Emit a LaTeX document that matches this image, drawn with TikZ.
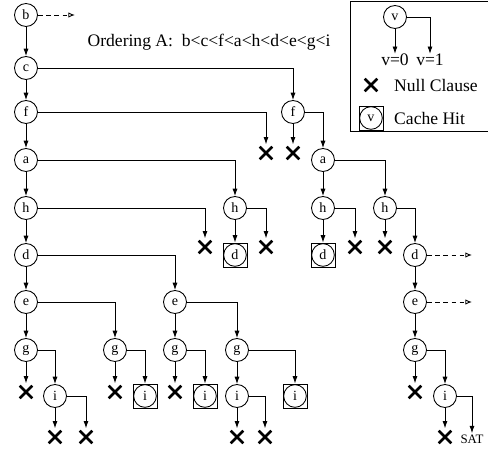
\documentclass[tikz,border=0pt]{standalone}
\usepackage{fontspec}
\setmainfont{Liberation Serif}
\usetikzlibrary{arrows.meta,shapes.misc}

\begin{document}
\begin{tikzpicture}[x=0.3cm,y=-0.3cm,
		var/.style={circle, draw, line width=0.75pt, minimum size=0.69cm, inner sep=0pt, font=\fontsize{12}{12}\selectfont},
		hit/.style={rectangle, draw, line width=0.75pt, minimum size=0.72cm, inner sep=0pt, font=\fontsize{12}{12}\selectfont,
			path picture={\draw[line width=0.75pt] (path picture bounding box.center) circle[radius=0.34cm];}},
		nulo/.style={cross out, draw, line width=2.2pt, minimum size=0.3cm, inner sep=0pt},
		rama/.style={line width=0.75pt, -{Latex[length=2.2mm,width=1.5mm]}},
		ramax/.style={rama, shorten >=2pt},
		pend/.style={line width=0.75pt, dash pattern=on 4pt off 3pt, -{Latex[open,length=2mm,width=1.6mm]}},
		texto/.style={font=\fontsize{15}{15}\selectfont, inner sep=0pt}]
	\useasboundingbox (0,0) rectangle (48.8,45.1);

	% Leyenda
		\draw[line width=0.75pt] (48.8,0.1) -- (35.0,0.1) -- (35.0,13.1) -- (48.8,13.1);
		\node[var] (lv) at (39.5,1.7) {v};
		\node[texto] (lv0) at (39.5,6.0) {v=0};
		\node[texto] (lv1) at (43.0,6.0) {v=1};
		\draw[rama] (lv) -- (lv0);
		\draw[rama] (lv) -| (lv1);
		\node[nulo] (lnulo) at (37.1,8.5) {};
		\node[texto, anchor=west] (lnulot) at (39.4,8.5) {Null Clause};
		\node[hit] (lhit) at (37.1,11.8) {v};
		\node[texto, anchor=west] (lhitt) at (39.4,11.8) {Cache Hit};

	% Orden
		\node[texto] (orden) at (20.9,4.2) {Ordering A:\ \ b<c<f<a<h<d<e<g<i};

	% Rama izquierda
		\node[var] (b) at (2.6,1.5) {b};
		\coordinate (bfin) at (7.5,1.5);
		\node[var] (c1) at (2.6,6.8) {c};
		\node[var] (f1) at (2.6,11.2) {f};
		\node[var] (a1) at (2.6,16.0) {a};
		\node[var] (h1) at (2.6,20.8) {h};
		\node[var] (d1) at (2.6,25.5) {d};
		\node[var] (e1) at (2.6,30.2) {e};
		\node[var] (g1) at (2.6,35.0) {g};
		\node[nulo] (n1) at (2.6,39.2) {};
		\node[var] (i1) at (5.5,39.6) {i};
		\node[nulo] (n2) at (5.5,43.7) {};
		\node[nulo] (n3) at (8.6,43.7) {};

	% Nivel f, a
		\node[var] (f2) at (29.3,11.2) {f};
		\node[nulo] (n4) at (26.6,15.3) {};
		\node[nulo] (n5) at (29.3,15.3) {};
		\node[var] (a2) at (32.3,16.0) {a};

	% Nivel h, d
		\node[var] (h2) at (23.5,20.8) {h};
		\node[var] (h3) at (32.3,20.8) {h};
		\node[var] (h4) at (38.5,20.8) {h};
		\node[nulo] (n6) at (20.5,24.7) {};
		\node[hit] (d2) at (23.5,25.5) {d};
		\node[nulo] (n7) at (26.6,24.7) {};
		\node[hit] (d3) at (32.3,25.5) {d};
		\node[nulo] (n8) at (35.5,24.7) {};
		\node[nulo] (n9) at (38.5,24.7) {};
		\node[var] (d4) at (41.5,25.5) {d};
		\coordinate (d4fin) at (47.2,25.5);

	% Nivel e, g, i
		\node[var] (e2) at (17.5,30.2) {e};
		\node[var] (e4) at (41.5,30.2) {e};
		\coordinate (e4fin) at (47.2,30.2);
		\node[var] (g2) at (11.5,35.0) {g};
		\node[var] (g3) at (17.5,35.0) {g};
		\node[var] (g4) at (23.7,35.0) {g};
		\node[var] (g5) at (41.5,35.0) {g};
		\node[nulo] (n10) at (11.5,39.2) {};
		\node[hit] (i2) at (14.5,39.6) {i};
		\node[nulo] (n11) at (17.5,39.2) {};
		\node[hit] (i3) at (20.5,39.6) {i};
		\node[var] (i4) at (23.7,39.6) {i};
		\node[hit] (i6) at (29.5,39.6) {i};
		\node[nulo] (n12) at (23.7,43.7) {};
		\node[nulo] (n13) at (26.5,43.7) {};
		\node[nulo] (n14) at (41.5,39.2) {};
		\node[var] (i5) at (44.5,39.6) {i};
		\node[nulo] (n15) at (44.5,43.7) {};
		\node[inner sep=1pt, font=\fontsize{11}{11}\selectfont] (sat) at (47.2,43.9) {SAT};

	% Ramas v=0
		\draw[rama] (b) -- (c1);
		\draw[rama] (c1) -- (f1);
		\draw[rama] (f1) -- (a1);
		\draw[rama] (a1) -- (h1);
		\draw[rama] (h1) -- (d1);
		\draw[rama] (d1) -- (e1);
		\draw[rama] (e1) -- (g1);
		\draw[ramax] (g1) -- (n1);
		\draw[ramax] (i1) -- (n2);
		\draw[ramax] (f2) -- (n5);
		\draw[rama] (a2) -- (h3);
		\draw[rama] (h2) -- (d2);
		\draw[rama] (h3) -- (d3);
		\draw[ramax] (h4) -- (n9);
		\draw[rama] (d4) -- (e4);
		\draw[rama] (e4) -- (g5);
		\draw[ramax] (g5) -- (n14);
		\draw[ramax] (i5) -- (n15);
		\draw[rama] (e2) -- (g3);
		\draw[ramax] (g2) -- (n10);
		\draw[ramax] (g3) -- (n11);
		\draw[rama] (g4) -- (i4);
		\draw[ramax] (i4) -- (n12);

	% Ramas v=1
		\draw[rama] (c1) -| (f2);
		\draw[ramax] (f1) -| (n4);
		\draw[rama] (f2) -| (a2);
		\draw[rama] (a1) -| (h2);
		\draw[rama] (a2) -| (h4);
		\draw[ramax] (h1) -| (n6);
		\draw[ramax] (h2) -| (n7);
		\draw[ramax] (h3) -| (n8);
		\draw[rama] (h4) -| (d4);
		\draw[rama] (d1) -| (e2);
		\draw[rama] (e1) -| (g2);
		\draw[rama] (g1) -| (i1);
		\draw[ramax] (i1) -| (n3);
		\draw[rama] (g2) -| (i2);
		\draw[rama] (e2) -| (g4);
		\draw[rama] (g3) -| (i3);
		\draw[rama] (g4) -| (i6);
		\draw[ramax] (i4) -| (n13);
		\draw[rama] (g5) -| (i5);
		\draw[rama] (i5) -| (sat);

	% Pendientes
		\draw[pend] (b) -- (bfin);
		\draw[pend] (d4) -- (d4fin);
		\draw[pend] (e4) -- (e4fin);
\end{tikzpicture}
\end{document}
